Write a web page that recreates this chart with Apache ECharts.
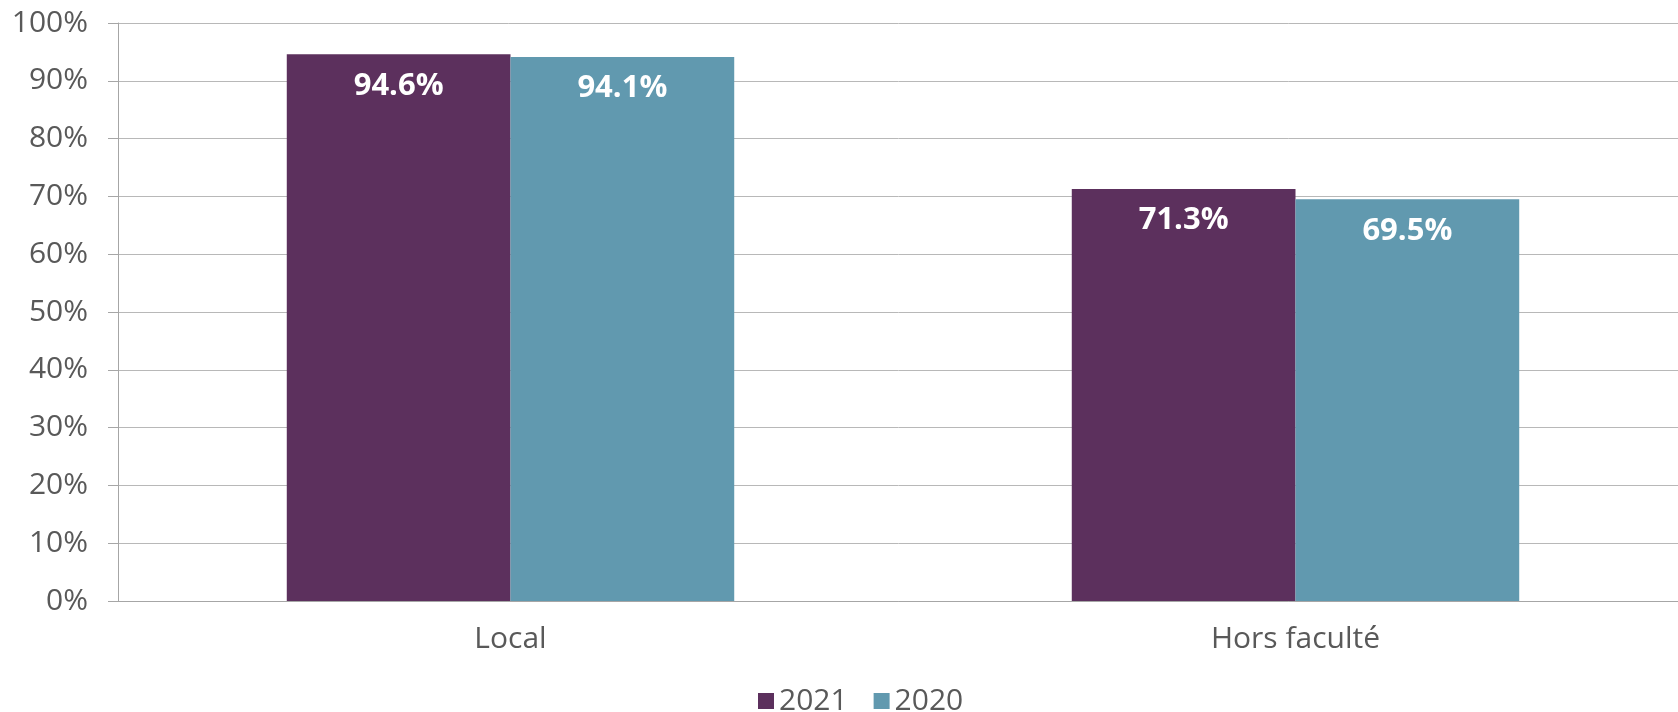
<!DOCTYPE html>
<html>
<head>
<meta charset="utf-8">
<title>Local / Hors faculté</title>
<script src="https://cdn.jsdelivr.net/npm/echarts@6/dist/echarts.min.js"></script>
<style>
    html, body { margin: 0; padding: 0; background: #fff; }
    #main { width: 1678px; height: 712px; }
</style>
</head>
<body>
<div id="main"></div>
<script>
// données
var categories = ['Local', 'Hors faculté'];
var seriesNames = ['2021', '2020'];
var values2021 = [94.6, 71.3];
var values2020 = [94.1, 69.5];
var yTicks = [0, 10, 20, 30, 40, 50, 60, 70, 80, 90, 100];

function showBars(param) {
    var myChart = echarts.init(document.getElementById(param.id));
    var font = '"Open Sans", "Noto Sans", sans-serif';
    var labelStyle = {
        show: true,
        position: 'insideTop',
        distance: 16,
        color: '#fff',
        fontWeight: 'bold',
        fontSize: 31,
        fontFamily: font,
        formatter: function(p) {
            return p.value.toFixed(1) + '%';
        }
    };
    var option = {
        backgroundColor: '#fff',
        color: ['#5C305D', '#6199AF'],
        animation: false,
        grid: {
            left: 118,
            top: 23,
            width: 1570,
            height: 578,
            outerBoundsMode: 'none'
        },
        legend: {
            data: param.seriesNames,
            left: 753,
            top: 681,
            icon: 'rect',
            itemWidth: 16,
            itemHeight: 16,
            itemGap: 26,
            textStyle: {
                color: '#595959',
                fontSize: 30,
                fontFamily: font
            }
        },
        xAxis: {
            type: 'category',
            data: param.categories,
            axisLine: {
                lineStyle: { color: '#a6a6a6', width: 1 }
            },
            axisTick: {
                length: 11,
                lineStyle: { color: '#a6a6a6' }
            },
            axisLabel: {
                margin: 23,
                color: '#595959',
                fontSize: 30,
                fontFamily: font
            }
        },
        yAxis: {
            type: 'value',
            min: param.yTicks[0],
            max: param.yTicks[param.yTicks.length - 1],
            interval: 10,
            axisLine: {
                show: true,
                lineStyle: { color: '#a6a6a6' }
            },
            axisTick: {
                show: true,
                inside: false,
                length: 10,
                lineStyle: { color: '#a6a6a6' }
            },
            splitLine: {
                lineStyle: { color: '#b8b8b8', width: 1 }
            },
            axisLabel: {
                margin: 30,
                color: '#595959',
                fontSize: 30,
                fontFamily: font,
                formatter: '{value}%'
            }
        },
        series: [{
            name: param.seriesNames[0],
            type: 'bar',
            data: param.values2021,
            barGap: 0,
            barCategoryGap: '43%',
            label: labelStyle
        }, {
            name: param.seriesNames[1],
            type: 'bar',
            data: param.values2020,
            barGap: 0,
            barCategoryGap: '43%',
            label: labelStyle
        }]
    };
    myChart.setOption(option);
}

showBars({
    id: 'main',
    categories: categories,
    seriesNames: seriesNames,
    values2021: values2021,
    values2020: values2020,
    yTicks: yTicks
});
</script>
</body>
</html>
